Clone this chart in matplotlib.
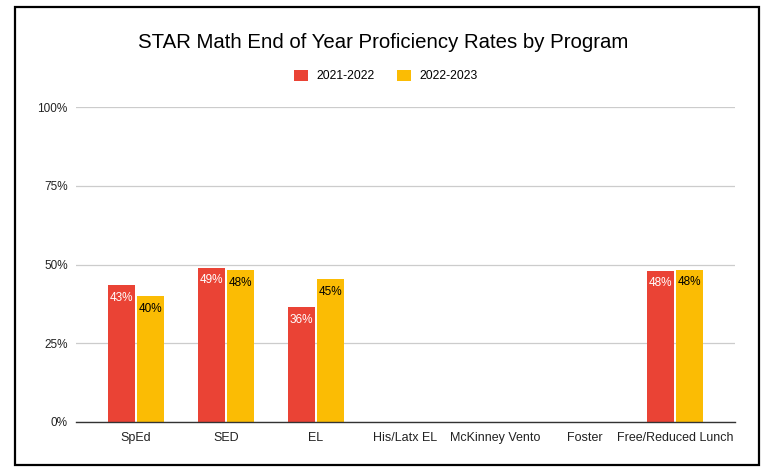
import matplotlib.pyplot as plt
import numpy as np
from matplotlib.patches import Rectangle

plt.rcParams['font.family'] = ['Liberation Sans', 'DejaVu Sans']

programs = ['SpEd', 'SED', 'EL', 'His/Latx EL', 'McKinney Vento', 'Foster', 'Free/Reduced Lunch']
y2122 = [43.5, 49.0, 36.4, np.nan, np.nan, np.nan, 48.0]
y2223 = [40.0, 48.2, 45.3, np.nan, np.nan, np.nan, 48.3]
labels2122 = ['43%', '49%', '36%', '', '', '', '48%']
labels2223 = ['40%', '48%', '45%', '', '', '', '48%']
series = ['2021-2022', '2022-2023']
colors = ['#ea4335', '#fbbc04']

fig = plt.figure(figsize=(7.67, 4.68), dpi=100)
ax = fig.add_axes([76/767, 1 - 422/468, 659/767, 315/468])

x = np.arange(len(programs))
w = 0.30
off = 0.162
b1 = ax.bar(x - off, y2122, w, color=colors[0], label=series[0], zorder=3)
b2 = ax.bar(x + off, y2223, w, color=colors[1], label=series[1], zorder=3)

# value labels sit just inside the top of each bar
for bars, labs, tc in [(b1, labels2122, 'white'), (b2, labels2223, 'black')]:
    for r, lab in zip(bars, labs):
        h = r.get_height()
        if lab and not np.isnan(h):
            ax.text(r.get_x() + r.get_width() / 2, h - 4.0, lab, ha='center', va='center',
                    color=tc, fontsize=8.5, zorder=4)

ax.set_xlim(-0.668, len(programs) - 1 + 0.668)
ax.set_ylim(0, 100)
ax.set_yticks([0, 25, 50, 75, 100])
ax.set_yticklabels(['0%', '25%', '50%', '75%', '100%'])
ax.set_xticks(x)
ax.set_xticklabels(programs)
ax.tick_params(axis='both', length=0, colors='#222222')
ax.tick_params(axis='y', pad=6, labelsize=8.5)
ax.tick_params(axis='x', pad=7, labelsize=9)
ax.grid(axis='y', color='#cccccc', linewidth=0.9, zorder=0)
for s in ['top', 'right', 'left']:
    ax.spines[s].set_visible(False)
ax.spines['bottom'].set_color('#333333')
ax.spines['bottom'].set_linewidth(1.0)
ax.spines['bottom'].set_zorder(5)

fig.text(383/767, 1 - 43/468, 'STAR Math End of Year Proficiency Rates by Program',
         ha='center', va='center', fontsize=14.7, color='black')
fig.legend(loc='center', bbox_to_anchor=(0.503, 1 - 76/468), ncol=2, frameon=False,
           fontsize=8.7, handlelength=1.1, handleheight=1.1, columnspacing=1.9,
           handletextpad=0.7)

fig.add_artist(Rectangle((15/767, 1 - 465/468), 744/767, 458/468, transform=fig.transFigure,
                         fill=False, edgecolor='black', linewidth=1.6))

fig.savefig('out.png', dpi=100)
